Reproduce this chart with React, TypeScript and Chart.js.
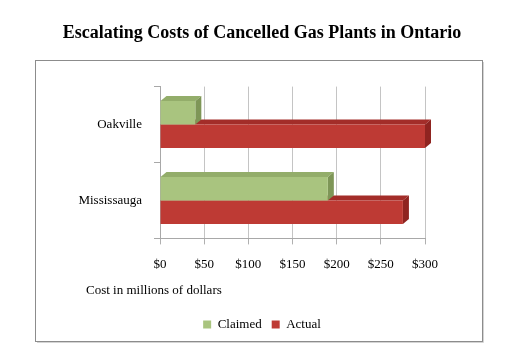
import React, { useEffect, useRef } from 'react';
import { Chart, registerables } from 'chart.js';
Chart.register(...registerables);

const titleText = 'Escalating Costs of Cancelled Gas Plants in Ontario';
const axisTitle = 'Cost in millions of dollars';
const categories = ['Oakville', 'Mississauga'];
const seriesNames = ['Claimed', 'Actual'];
const claimed = [40, 190];
const actual = [300, 275];
const tickValues = [0, 50, 100, 150, 200, 250, 300];
const tickLabels = ['$0', '$50', '$100', '$150', '$200', '$250', '$300'];

const FONT = "'Liberation Serif', serif";
const frontColors = ['#a9c47f', '#be3a34'];
const topColors = ['#93ad6a', '#a32d29'];
const sideColors = ['#7e9657', '#8f2420'];

const framePlugin = {
  id: 'frame',
  beforeDraw(chart: any) {
    const ctx = chart.ctx;
    ctx.save();
    ctx.fillStyle = '#ffffff';
    ctx.fillRect(0, 0, chart.width, chart.height);
    ctx.strokeStyle = '#d4d4d4';
    ctx.lineWidth = 1;
    ctx.beginPath();
    ctx.moveTo(37, 342.5);
    ctx.lineTo(483.5, 342.5);
    ctx.lineTo(483.5, 62);
    ctx.stroke();
    ctx.strokeStyle = '#8c8c8c';
    ctx.strokeRect(35.5, 60.5, 447, 281);
    ctx.restore();
  },
  afterLayout(chart: any) {
    chart.boxes.forEach((b: any) => {
      if (b.options && b.options.text === axisTitle) {
        b.left += 56;
        b.right += 56;
      }
    });
  },
};

const depthPlugin = {
  id: 'depth',
  beforeDatasetsDraw(chart: any) {
    const ctx = chart.ctx;
    const dx = 6;
    const dy = 5;
    ctx.save();
    [1, 0].forEach((di) => {
      const meta = chart.getDatasetMeta(di);
      meta.data.forEach((bar: any) => {
        const { x, y, base, height } = bar.getProps(['x', 'y', 'base', 'height'], true);
        const top = y - height / 2;
        const bot = y + height / 2;
        ctx.fillStyle = topColors[di];
        ctx.beginPath();
        ctx.moveTo(base, top);
        ctx.lineTo(base + dx, top - dy);
        ctx.lineTo(x + dx, top - dy);
        ctx.lineTo(x, top);
        ctx.closePath();
        ctx.fill();
        ctx.fillStyle = sideColors[di];
        ctx.beginPath();
        ctx.moveTo(x, top);
        ctx.lineTo(x + dx, top - dy);
        ctx.lineTo(x + dx, bot - dy);
        ctx.lineTo(x, bot);
        ctx.closePath();
        ctx.fill();
      });
    });
    ctx.restore();
  },
};

export default function App() {
  const ref = useRef<HTMLCanvasElement>(null);
  useEffect(() => {
    if (!ref.current) return;
    Chart.defaults.color = '#000000';
    const chart = new Chart(ref.current, {
      type: 'bar',
      data: {
        labels: categories,
        datasets: [
          { label: seriesNames[0], data: claimed, backgroundColor: frontColors[0], borderWidth: 0, categoryPercentage: 0.62, barPercentage: 1 },
          { label: seriesNames[1], data: actual, backgroundColor: frontColors[1], borderWidth: 0, categoryPercentage: 0.62, barPercentage: 1 },
        ],
      },
      options: {
        indexAxis: 'y',
        responsive: false,
        animation: false,
        layout: { padding: { top: 23, left: 30, right: 30, bottom: 19 } },
        scales: {
          x: {
            min: 0,
            max: 300,
            afterBuildTicks: (scale: any) => {
              scale.ticks = tickValues.map((v) => ({ value: v }));
            },
            afterFit: (scale: any) => {
              scale.height = 38;
            },
            ticks: {
              callback: (v: any) => tickLabels[tickValues.indexOf(Number(v))],
              font: { family: FONT, size: 13 },
              color: '#000',
              padding: 12,
              maxRotation: 0,
            },
            grid: { color: '#c4c4c4', tickLength: 6, tickColor: '#b0b0b0' },
            border: { color: '#a8a8a8' },
          },
          y: {
            afterFit: (scale: any) => {
              scale.width = 130;
            },
            ticks: { font: { family: FONT, size: 13 }, color: '#000', padding: 12 },
            grid: { drawOnChartArea: false, tickLength: 6, color: '#a8a8a8' },
            border: { color: '#a8a8a8' },
          },
          yRight: {
            type: 'linear',
            axis: 'y',
            position: 'right',
            display: true,
            afterFit: (scale: any) => {
              scale.width = 69;
            },
            ticks: { display: false },
            grid: { display: false },
            border: { display: false },
          },
        },
        plugins: {
          title: {
            display: true,
            text: titleText,
            font: { family: FONT, size: 18, weight: 'bold' },
            color: '#000',
            padding: { top: 0, bottom: 42 },
          },
          subtitle: {
            display: true,
            text: axisTitle,
            position: 'bottom',
            align: 'start',
            weight: 500,
            font: { family: FONT, size: 13 },
            color: '#000',
            padding: { top: 6, bottom: 10 },
          },
          legend: {
            position: 'bottom',
            labels: {
              boxWidth: 8,
              boxHeight: 8,
              font: { family: FONT, size: 13 },
              color: '#000',
              padding: 10,
            },
          },
          tooltip: { enabled: false },
        },
      },
      plugins: [framePlugin, depthPlugin],
    } as any);
    return () => chart.destroy();
  }, []);
  return (
    <div style={{ position: 'fixed', left: 0, top: 0, width: 524, height: 360 }}>
      <canvas ref={ref} width={524} height={360} />
    </div>
  );
}
